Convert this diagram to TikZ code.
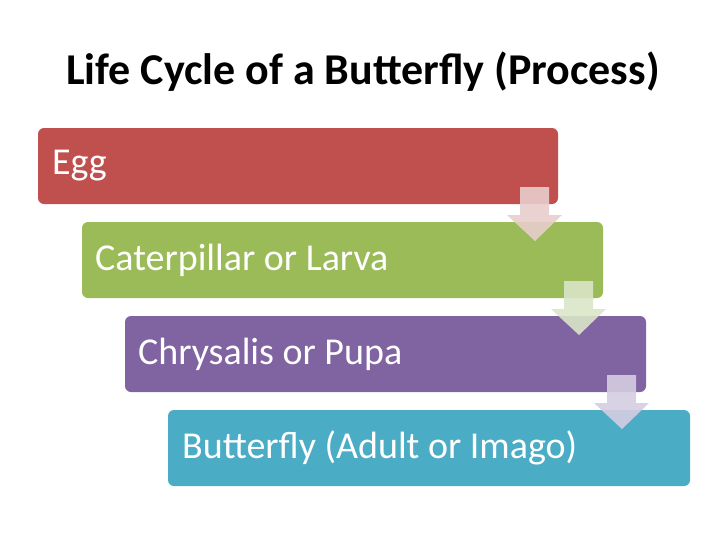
\documentclass[tikz,border=0pt]{standalone}
\usepackage{fontspec}
\setmainfont{Carlito}
\begin{document}
\begin{tikzpicture}[x=1pt,y=-1pt,
  stagebox/.style={rounded corners=6pt,draw=none},
  lbl/.style={anchor=west,inner sep=0pt,text=white,font=\fontsize{38}{44}\selectfont},
  downarrow/.style={draw=none,opacity=0.9}]
\useasboundingbox (0,0) rectangle (728,546);
\node[font=\bfseries\fontsize{44}{50}\selectfont] (title) at (363,72) {Life Cycle of a Butterfly (Process)};
\definecolor{cr}{HTML}{C0504D}\definecolor{cg}{HTML}{9BBB59}
\definecolor{cp}{HTML}{8064A2}\definecolor{cb}{HTML}{4BACC6}
\definecolor{ar}{HTML}{E8CDCC}\definecolor{ag}{HTML}{D9E5C7}\definecolor{ap}{HTML}{D5CDE1}
\fill[cr,stagebox] (38,128) rectangle (558,204);
\fill[cg,stagebox] (82,222) rectangle (603,298);
\fill[cp,stagebox] (125,316) rectangle (646,392);
\fill[cb,stagebox] (168,410) rectangle (690,486);
\node[lbl] (egg) at (52,166) {Egg};
\node[lbl] (cat) at (95,260) {Caterpillar or Larva};
\node[lbl] (chr) at (138,354) {Chrysalis or Pupa};
\node[lbl] (but) at (182,448) {Butterfly (Adult or Imago)};
\foreach \dx/\dy/\c in {0/0/ar,44/94/ag,87/188/ap}{
  \fill[\c,downarrow,shift={(\dx,\dy)}] (520,187) -- (549,187) -- (549,215) -- (562,215) -- (535,241) -- (507,215) -- (520,215) -- cycle;
}
\end{tikzpicture}
\end{document}
